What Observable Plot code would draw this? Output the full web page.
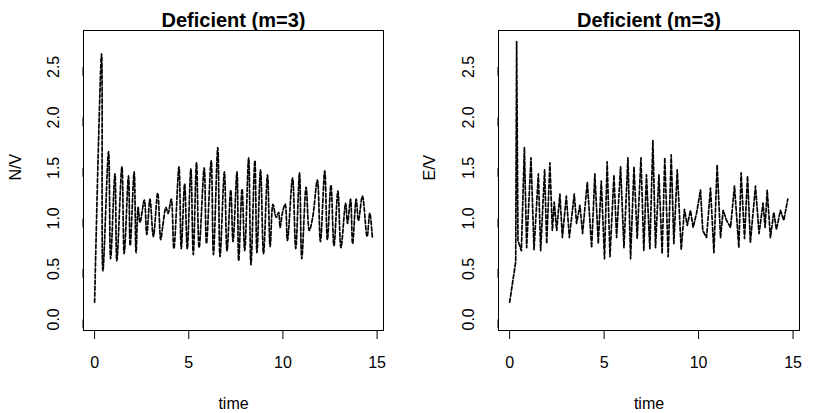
<!DOCTYPE html>
<html><head><meta charset="utf-8">
<script src="https://cdn.jsdelivr.net/npm/d3@7"></script>
<script src="https://cdn.jsdelivr.net/npm/@observablehq/plot@0.6"></script>
<style>
html,body{margin:0;padding:0;background:#fff;}
#wrap{position:relative;width:830px;height:413px;display:flex;}
#wrap svg{font-family:"Liberation Sans",Arial,sans-serif;display:block;}
</style></head><body><div id="wrap"></div>
<script>
const titleText = "Deficient (m=3)";
const xLabel = "time";
const xTicks = [0, 5, 10, 15];
const yTicks = [0, 0.5, 1, 1.5, 2, 2.5];

// N/V series (left panel)
const nTime = [0,0.37,0.44,0.74,0.85,1.08,1.18,1.45,1.57,1.80,1.89,2.10,2.20,2.31,2.41,2.64,2.77,2.94,3.12,3.35,3.51,3.61,3.79,3.90,4.07,4.21,4.48,4.60,4.78,4.92,5.11,5.24,5.41,5.55,5.82,5.94,6.19,6.31,6.54,6.66,6.89,7.03,7.23,7.35,7.56,7.65,7.83,7.97,8.18,8.30,8.51,8.62,8.81,8.97,9.18,9.32,9.47,9.64,9.77,9.85,9.98,10.12,10.24,10.51,10.68,10.88,11.00,11.23,11.40,11.58,11.83,11.99,12.22,12.36,12.55,12.71,12.92,13.08,13.33,13.43,13.59,13.70,13.89,14.01,14.22,14.47,14.61,14.75];
const nVal  = [0.17,2.63,0.48,1.66,0.60,1.44,0.58,1.51,0.65,1.42,0.73,1.46,0.66,1.11,0.96,1.18,0.84,1.19,0.82,1.25,0.79,0.91,1.11,1.05,1.19,0.70,1.51,0.70,1.34,0.70,1.49,0.64,1.55,0.71,1.50,0.75,1.57,0.64,1.70,0.62,1.46,0.68,1.28,0.77,1.46,0.58,1.29,0.68,1.60,0.54,1.57,0.66,1.48,0.65,1.43,0.72,1.14,1.01,1.06,0.91,1.06,1.14,0.78,1.40,0.70,1.45,0.60,1.31,0.88,1.01,1.38,0.77,1.47,0.79,1.33,0.73,1.27,0.71,1.15,0.95,1.19,0.75,1.19,0.98,1.22,0.82,1.05,0.81];

// E/V series (right panel)
const eTime = [0,0.32,0.37,0.44,0.62,0.78,0.90,1.13,1.29,1.52,1.64,1.85,1.96,2.13,2.26,2.36,2.49,2.66,2.79,3.00,3.16,3.42,3.54,3.72,3.86,4.11,4.34,4.51,4.69,4.85,5.02,5.16,5.31,5.52,5.66,5.87,6.05,6.26,6.40,6.58,6.75,6.95,7.10,7.24,7.42,7.58,7.72,7.90,8.07,8.21,8.39,8.55,8.69,8.87,9.08,9.25,9.40,9.57,9.71,9.89,10.10,10.22,10.42,10.63,10.81,10.98,11.16,11.30,11.48,11.69,11.90,12.13,12.25,12.43,12.59,12.74,13.01,13.20,13.41,13.52,13.63,13.80,13.98,14.12,14.33,14.51,14.72];
const eVal  = [0.17,0.57,2.75,0.78,0.68,1.70,0.71,1.60,0.69,1.44,0.68,1.48,0.75,1.55,0.88,1.16,0.88,1.24,0.81,1.22,0.81,1.24,0.95,1.13,0.85,1.36,0.71,1.44,0.75,1.37,0.60,1.56,0.62,1.43,0.81,1.51,0.71,1.60,0.60,1.51,0.80,1.60,0.68,1.43,0.70,1.77,0.71,1.43,0.65,1.60,0.62,1.63,0.75,1.48,0.69,1.09,0.93,1.08,0.91,1.05,1.28,0.88,0.81,1.30,0.66,1.53,0.81,1.08,0.98,0.91,1.32,0.71,1.45,0.80,1.42,0.76,1.32,0.85,1.15,0.91,1.28,0.81,1.06,0.89,1.08,0.98,1.19];

function panel(times, vals, ylab, curve, mL, mR, ylabDx) {
  const data = times.map((t, i) => ({t, v: vals[i]}));
  return Plot.plot({
    width: 415, height: 413,
    marginLeft: mL, marginRight: mR, marginTop: 30, marginBottom: 83,
    x: {domain: [-0.59, 15.34], label: null},
    y: {domain: [-0.11, 2.86], label: null},
    marks: [
      Plot.frame({stroke: "black", strokeWidth: 1}),
      Plot.line(data, {x: "t", y: "v", curve, stroke: "black", strokeWidth: 1.7, strokeDasharray: "4,2"}),
      Plot.axisX(xTicks, {anchor: "bottom", label: null, tickSize: 9, tickPadding: 17, fontSize: 16, tickFormat: d => String(d), stroke: "black"}),
      Plot.axisY(yTicks, {anchor: "left", label: null, tickSize: 9, tickPadding: 16, fontSize: 16, rotate: -90, textAnchor: "middle", lineAnchor: "bottom", tickFormat: d3.format(".1f"), stroke: "black"}),
      Plot.text([titleText], {text: d => d, frameAnchor: "top", dy: -10, fontSize: 20, fontWeight: "bold", lineAnchor: "middle", fill: "black"}),
      Plot.text([xLabel], {text: d => d, frameAnchor: "bottom", dy: 73, fontSize: 16, lineAnchor: "middle", fill: "black"}),
      Plot.text([ylab], {text: d => d, frameAnchor: "left", dx: ylabDx, rotate: -90, fontSize: 16, lineAnchor: "middle", fill: "black"})
    ]
  });
}

const wrap = document.getElementById("wrap");
wrap.append(panel(nTime, nVal, "N/V", "catmull-rom", 83, 32, -68));
wrap.append(panel(eTime, eVal, "E/V", "linear", 83, 31, -69));
</script></body></html>
